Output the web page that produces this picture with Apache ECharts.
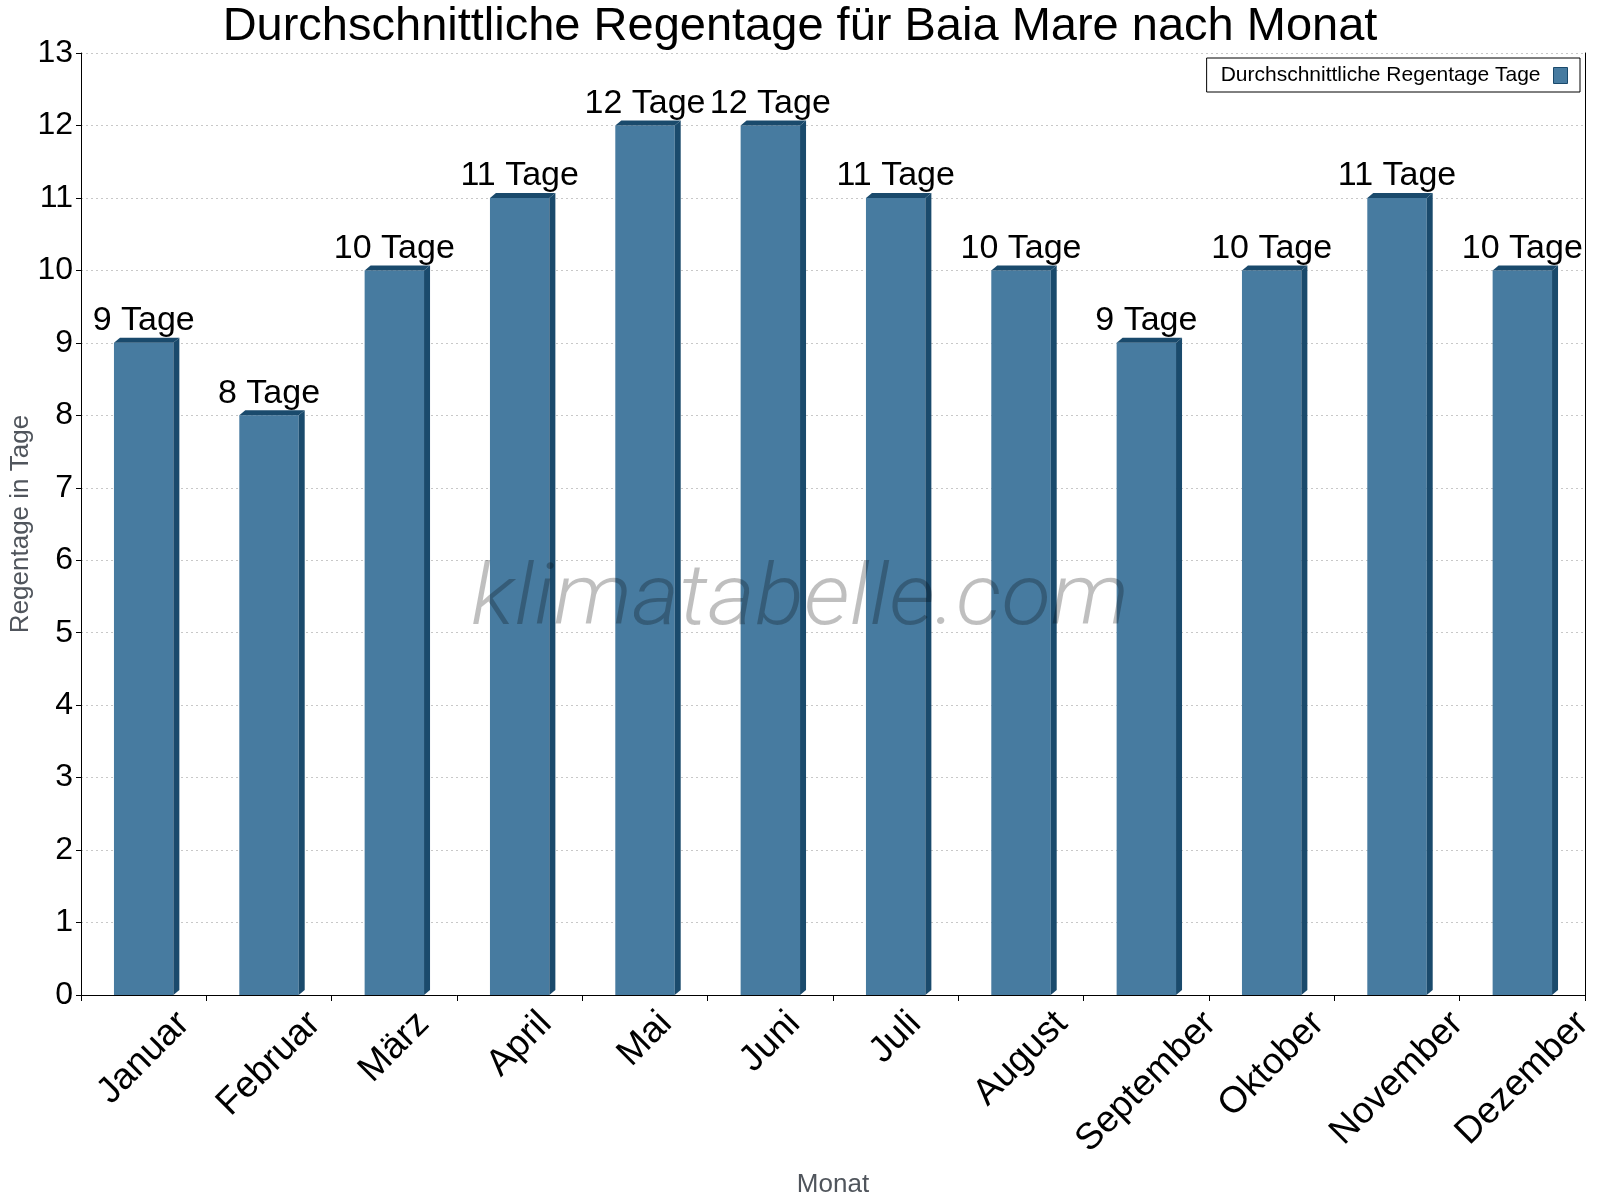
<!DOCTYPE html>
<html>
<head>
<meta charset="utf-8">
<script src="https://cdn.jsdelivr.net/npm/echarts@6/dist/echarts.min.js"></script>
<style>
  html, body { margin: 0; padding: 0; background: #fff; }
  #chart { width: 1600px; height: 1200px; }
</style>
</head>
<body>
<div id="chart"></div>
<script>
// Daten
const months = ["Januar", "Februar", "März", "April", "Mai", "Juni", "Juli", "August", "September", "Oktober", "November", "Dezember"];
const rainDays = [9, 8, 10, 11, 12, 12, 11, 10, 9, 10, 11, 10];
const unit = "Tage";
const seriesName = "Durchschnittliche Regentage Tage";

const FONT = "'Liberation Sans', Arial, sans-serif";
const FRONT = "#477ba0";
const DARK = "#1a4a6c";
const VALUE_FONT = "34px " + FONT;
const MONTH_FONT = "37px " + FONT;

// zum Messen der Monatsnamen
const measureCtx = document.createElement("canvas").getContext("2d");
measureCtx.font = MONTH_FONT;

const myChart = echarts.init(document.getElementById("chart"));

// 3D-Balken: Vorderseite, Seite, Deckel + Beschriftung
const renderBar = (params, api) => {
  const idx = api.value(0);
  const val = api.value(1);
  const top = api.coord([idx, val]);
  const base = api.coord([idx, 0]);
  const w = api.size([1, 0])[0] * 0.474;
  const xl = top[0] - w / 2;
  const xr = top[0] + w / 2;
  const yt = top[1];
  const yb = base[1];
  const dx = 6, dy = 5;
  return {
    type: "group",
    children: [
      { type: "rect", shape: { x: xl, y: yt, width: w, height: yb - yt }, style: { fill: FRONT } },
      { type: "polygon", shape: { points: [[xr, yt], [xr + dx, yt - dy], [xr + dx, yb - dy], [xr, yb]] }, style: { fill: DARK } },
      { type: "polygon", shape: { points: [[xl, yt], [xl + dx, yt - dy], [xr + dx, yt - dy], [xr, yt]] }, style: { fill: DARK } },
      {
        type: "text",
        x: top[0],
        y: yt - 5,
        style: { text: val + " " + unit, font: VALUE_FONT, fill: "#000", align: "center", verticalAlign: "bottom" },
      },
    ],
  };
};

// gedrehte Monatsnamen, mittig unter der Kategorie
const renderMonth = (params, api) => {
  const idx = api.value(0);
  const p = api.coord([idx, 0]);
  const name = months[idx];
  const L = measureCtx.measureText(name).width;
  return {
    type: "text",
    x: p[0],
    y: p[1] + 23 + L * 0.354,
    rotation: Math.PI / 4,
    style: { text: name, font: MONTH_FONT, fill: "#000", align: "center", verticalAlign: "middle" },
  };
};

const options = {
  backgroundColor: "#fff",
  animation: false,
  title: {
    text: "Durchschnittliche Regentage für Baia Mare nach Monat",
    left: "center",
    top: -1,
    textStyle: { fontFamily: FONT, fontSize: 47, fontWeight: "normal", color: "#000" },
  },
  legend: {
    right: 20,
    top: 58,
    orient: "vertical",
    align: "right",
    padding: [7, 12, 6, 14],
    borderColor: "#000",
    borderWidth: 1,
    borderRadius: 0,
    itemWidth: 14,
    itemHeight: 16,
    textStyle: { fontFamily: FONT, fontSize: 21, color: "#000", padding: [0, 8, 0, 0] },
    data: [{ name: seriesName, icon: "rect", itemStyle: { color: FRONT, borderColor: DARK, borderWidth: 1 } }],
  },
  grid: { left: 81, right: 15, top: 53, bottom: 205, containLabel: false, outerBoundsMode: "none" },
  xAxis: {
    type: "category",
    data: months,
    name: "Monat",
    nameLocation: "middle",
    nameGap: 177,
    nameMoveOverlap: false,
    nameTextStyle: { fontFamily: FONT, fontSize: 26, color: "#50555c" },
    axisLine: { lineStyle: { color: "#000", width: 1 } },
    axisTick: { show: true, interval: 0, length: 6, lineStyle: { color: "#000" } },
    axisLabel: { show: false },
    splitLine: { show: false },
  },
  yAxis: [
    {
      type: "value",
      min: 0,
      max: 13,
      interval: 1,
      name: "Regentage in Tage",
      nameLocation: "middle",
      nameGap: 47,
      nameMoveOverlap: false,
      nameTextStyle: { fontFamily: FONT, fontSize: 26, color: "#50555c" },
      axisLine: { show: true, lineStyle: { color: "#000", width: 1 } },
      axisTick: { show: true, length: 5, lineStyle: { color: "#000" } },
      axisLabel: { fontFamily: FONT, fontSize: 32, color: "#000", margin: 8 },
      splitLine: { show: true, lineStyle: { color: "#c8c8c8", type: [2, 3], width: 1 } },
    },
    {
      type: "value",
      position: "right",
      min: 0,
      max: 13,
      interval: 1,
      axisLine: { show: true, lineStyle: { color: "#000", width: 1 } },
      axisTick: { show: false },
      axisLabel: { show: false },
      splitLine: { show: false },
    },
  ],
  graphic: [
    {
      type: "text",
      x: 800,
      y: 603,
      z: 100,
      scaleX: 1.07,
      silent: true,
      style: {
        text: "klimatabelle.com",
        font: "italic 300 85px Roboto, 'Liberation Sans', sans-serif",
        fill: "rgba(0,0,0,0.25)",
        align: "center",
        verticalAlign: "middle",
      },
    },
  ],
  series: [
    {
      name: seriesName,
      type: "custom",
      renderItem: renderBar,
      itemStyle: { color: FRONT },
      clip: false,
      data: rainDays.map((v, i) => [i, v]),
    },
    {
      name: "Monatsnamen",
      type: "custom",
      renderItem: renderMonth,
      clip: false,
      silent: true,
      data: months.map((m, i) => [i, 0]),
    },
  ],
};

myChart.setOption(options);
</script>
</body>
</html>
